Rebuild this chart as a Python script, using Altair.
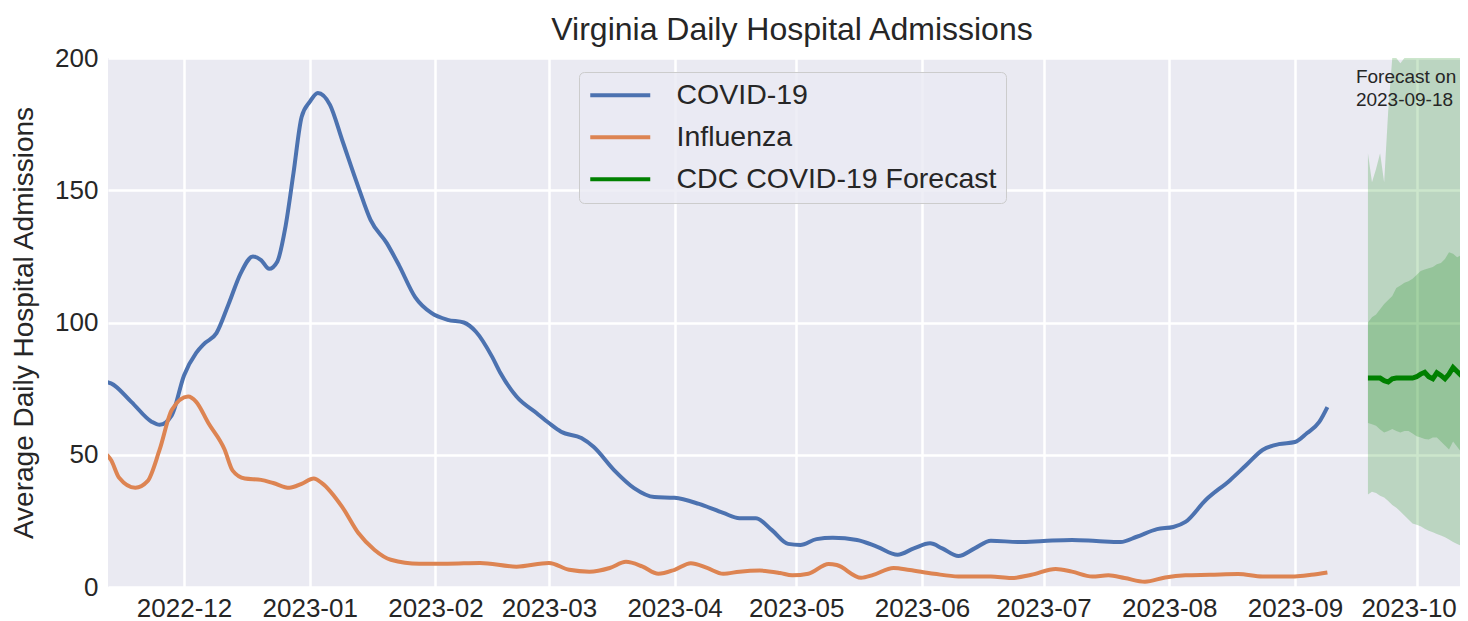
import altair as alt
import pandas as pd

# ---------------- data ----------------
covid_dates = [
    "2022-11-12", "2022-11-13", "2022-11-18", "2022-11-23", "2022-11-25", "2022-11-28",
    "2022-12-01", "2022-12-04", "2022-12-06", "2022-12-09", "2022-12-12", "2022-12-15",
    "2022-12-18", "2022-12-20", "2022-12-22", "2022-12-24", "2022-12-26", "2022-12-28",
    "2022-12-30", "2023-01-01", "2023-01-03", "2023-01-06", "2023-01-09", "2023-01-13",
    "2023-01-16", "2023-01-20", "2023-01-23", "2023-01-27", "2023-01-31", "2023-02-04",
    "2023-02-08", "2023-02-11", "2023-02-15", "2023-02-17", "2023-02-21", "2023-02-26",
    "2023-03-01", "2023-03-04", "2023-03-09", "2023-03-12", "2023-03-17", "2023-03-22",
    "2023-03-27", "2023-04-01", "2023-04-07", "2023-04-13", "2023-04-17", "2023-04-21",
    "2023-04-25", "2023-04-29", "2023-05-02", "2023-05-06", "2023-05-10", "2023-05-16",
    "2023-05-21", "2023-05-26", "2023-05-30", "2023-06-03", "2023-06-06", "2023-06-10",
    "2023-06-14", "2023-06-18", "2023-06-25", "2023-07-01", "2023-07-08", "2023-07-14",
    "2023-07-20", "2023-07-24", "2023-07-29", "2023-08-02", "2023-08-05", "2023-08-10",
    "2023-08-16", "2023-08-20", "2023-08-24", "2023-08-28", "2023-09-01", "2023-09-04",
    "2023-09-07", "2023-09-09",
]
covid_values = [
    77.5, 77, 70, 62.5, 61.3, 65,
    80, 88.5, 92, 96, 107, 118.7,
    125, 123.6, 120.3, 123, 136, 156.5,
    177.7, 183.4, 186.8, 182.3, 169, 151.2,
    138.8, 130, 121.7, 109.6, 103.6, 101,
    100, 96.5, 87, 81, 72, 65.7,
    62, 58.7, 56.3, 53, 44.3, 37.4,
    34, 33.7, 31.4, 28, 26, 26,
    21.5, 16.3, 15.9, 18.1, 18.6, 17.8,
    15.2, 12.2, 14.6, 16.5, 14.6, 11.7,
    14.6, 17.5, 17, 17.4, 17.8, 17.4,
    17, 19, 21.9, 22.7, 24.6, 32.9,
    40.4, 46.1, 51.8, 54, 54.8, 58.2,
    62.4, 68,
]

flu_dates = [
    "2022-11-12", "2022-11-13", "2022-11-15", "2022-11-19", "2022-11-22", "2022-11-25",
    "2022-11-28", "2022-12-02", "2022-12-04", "2022-12-07", "2022-12-11", "2022-12-13",
    "2022-12-16", "2022-12-20", "2022-12-23", "2022-12-27", "2022-12-30", "2023-01-02",
    "2023-01-04", "2023-01-09", "2023-01-13", "2023-01-17", "2023-01-21", "2023-01-28",
    "2023-02-04", "2023-02-12", "2023-02-21", "2023-03-01", "2023-03-06", "2023-03-11",
    "2023-03-16", "2023-03-20", "2023-03-24", "2023-03-28", "2023-04-01", "2023-04-05",
    "2023-04-09", "2023-04-13", "2023-04-17", "2023-04-22", "2023-04-27", "2023-04-30",
    "2023-05-04", "2023-05-09", "2023-05-11", "2023-05-17", "2023-05-20", "2023-05-25",
    "2023-05-29", "2023-06-04", "2023-06-10", "2023-06-18", "2023-06-23", "2023-06-28",
    "2023-07-04", "2023-07-08", "2023-07-13", "2023-07-17", "2023-07-21", "2023-07-26",
    "2023-07-31", "2023-08-05", "2023-08-11", "2023-08-18", "2023-08-24", "2023-09-01",
    "2023-09-05", "2023-09-09",
]
flu_values = [
    50, 48, 41.3, 37.5, 40, 52,
    67, 72, 70, 62, 52, 44,
    41, 40.5, 39.3, 37.5, 39, 41,
    39.3, 30.3, 20.4, 14, 10.3, 8.8,
    8.8, 9.1, 7.7, 9.1, 6.5, 5.8,
    7.2, 9.5, 7.8, 5, 6.5, 9,
    7.2, 5, 5.8, 6.2, 5.3, 4.4,
    5, 8.7, 8.3, 3.5, 4.6, 7.2,
    6.4, 5, 4, 4, 3.4, 4.6,
    6.8, 5.8, 4, 4.4, 3.4, 2,
    3.6, 4.4, 4.6, 4.9, 4, 4,
    4.6, 5.5,
]

fc_dates = [
    "2023-09-19", "2023-09-20", "2023-09-21", "2023-09-22", "2023-09-23", "2023-09-24",
    "2023-09-25", "2023-09-26", "2023-09-27", "2023-09-28", "2023-09-29", "2023-09-30",
    "2023-10-01", "2023-10-02", "2023-10-03", "2023-10-04", "2023-10-05", "2023-10-06",
    "2023-10-07", "2023-10-08", "2023-10-09", "2023-10-10", "2023-10-11", "2023-10-12",
    "2023-10-13", "2023-10-14",
]
fc_median = [79, 79, 79, 79, 78, 77.5, 78.7, 79, 79, 79, 79, 79,
             79.5, 80.5, 81.2, 79.5, 78.7, 81, 80, 78.7, 80.5, 83, 81.5, 80,
             81, 79.5]
fc_inner_hi = [100, 102, 103, 105, 107, 108.5, 110, 113, 114, 115, 115.6, 116.5,
               118, 119.5, 120, 120.5, 121, 122, 122.5, 124, 126.6, 126, 124.7, 125.5,
               127, 126]
fc_inner_lo = [62, 61.5, 61, 59.5, 58.4, 59, 59.7, 59, 58.4, 59, 59, 58,
               57, 56.5, 56, 55.8, 56.5, 56.5, 55, 53.5, 52, 55, 53, 51,
               50.8, 50.6]
fc_outer_hi = [164, 153, 158, 164, 153, 180, 205, 240, 198, 250, 262, 270,
               275, 280, 285, 290, 295, 300, 305, 310, 315, 320, 325, 330,
               335, 340]
fc_outer_lo = [35, 36, 35.5, 34.5, 33.8, 32.5, 31, 30, 28.5, 27, 25.5, 24,
               23.5, 23, 22, 21.3, 20.7, 20, 19.5, 18.8, 18, 17, 16.3, 15.6,
               15.6, 15.6]

series_names = ["COVID-19", "Influenza", "CDC COVID-19 Forecast"]
series_colors = ["#4c72b0", "#dd8452", "green"]

x_tick_months = [(2022, 12)] + [(2023, m) for m in range(1, 11)]
y_ticks = [0, 50, 100, 150, 200]

chart_title = "Virginia Daily Hospital Admissions"
annotation_text = "Forecast on\n2023-09-18"
annotation_date = "2023-09-18"
annotation_y = 190.5

# ---------------- tables ----------------
lines_df = pd.concat([
    pd.DataFrame({"date": pd.to_datetime(covid_dates), "value": covid_values, "series": "COVID-19"}),
    pd.DataFrame({"date": pd.to_datetime(flu_dates), "value": flu_values, "series": "Influenza"}),
])
fc_df = pd.DataFrame({
    "date": pd.to_datetime(fc_dates),
    "value": fc_median,
    "inner_hi": fc_inner_hi,
    "inner_lo": fc_inner_lo,
    "outer_hi": fc_outer_hi,
    "outer_lo": fc_outer_lo,
    "series": "CDC COVID-19 Forecast",
})
ann_df = pd.DataFrame({"date": pd.to_datetime([annotation_date]), "value": [annotation_y],
                       "label": [annotation_text]})
title_df = pd.DataFrame({"label": [chart_title]})

FONT = "Liberation Sans"
TXT = "#262626"
W, H = 1352, 529

x_scale = alt.Scale(domain=[alt.DateTime(year=2022, month=11, date=12, hours=6),
                            alt.DateTime(year=2023, month=10, date=11, hours=17)])
y_scale = alt.Scale(domain=[0, 200], nice=False, zero=False, clamp=True)

x_axis = alt.Axis(
    values=[alt.DateTime(year=y, month=m, date=1) for y, m in x_tick_months],
    format="%Y-%m", title=None, labelFontSize=26, labelFont=FONT, labelColor=TXT,
    labelPadding=8, ticks=False, domain=False, gridColor="white", gridWidth=2.5,
    labelFlush=False, labelOverlap=False, labelBound=False,
    labelOffset={"condition": {"test": "datum.label == '2023-10'", "value": -8}, "value": 0},
)
y_axis = alt.Axis(
    values=y_ticks, title="Average Daily Hospital Admissions", titleFontSize=28,
    titleFont=FONT, titleFontWeight="normal", titleColor=TXT, titleX=-75.5,
    titleBaseline="alphabetic", labelFontSize=26, labelFont=FONT, labelColor=TXT,
    labelPadding=10, ticks=False, domain=False, gridColor="white", gridWidth=2.5,
)

color_scale = alt.Scale(domain=series_names, range=series_colors)
legend = alt.Legend(
    title=None, orient="none", legendX=471, legendY=14, symbolType="M-1,0H4",
    symbolSize=576, symbolStrokeWidth=4, labelFontSize=28.5, labelFont=FONT,
    labelColor=TXT, labelOffset=60, rowPadding=13, padding=9,
    fillColor="rgba(234,234,242,0.8)", strokeColor="#cccccc", cornerRadius=5,
    labelLimit=600,
)

base_x = alt.X("date:T", scale=x_scale, axis=x_axis)

outer = alt.Chart(fc_df).mark_area(color="green", opacity=0.2, clip=True).encode(
    x=base_x, y=alt.Y("outer_lo:Q", scale=y_scale, axis=y_axis), y2="outer_hi:Q")
inner = alt.Chart(fc_df).mark_area(color="green", opacity=0.2, clip=True).encode(
    x=base_x, y=alt.Y("inner_lo:Q", scale=y_scale), y2="inner_hi:Q")

hist = alt.Chart(lines_df).mark_line(strokeWidth=4, interpolate="monotone", clip=True).encode(
    x=base_x, y=alt.Y("value:Q", scale=y_scale),
    color=alt.Color("series:N", scale=color_scale, legend=legend),
    detail="series:N",
)
fc_line = alt.Chart(fc_df).mark_line(strokeWidth=5, clip=True).encode(
    x=base_x, y=alt.Y("value:Q", scale=y_scale),
    color=alt.Color("series:N", scale=color_scale, legend=legend),
)
ann = alt.Chart(ann_df).mark_text(
    align="left", baseline="alphabetic", fontSize=19, font=FONT, color=TXT,
    lineBreak="\n", lineHeight=22.4, dx=-8,
).encode(x=base_x, y=alt.Y("value:Q", scale=y_scale), text="label:N")

title_mark = alt.Chart(title_df).mark_text(
    align="center", baseline="alphabetic", fontSize=32, font=FONT, color=TXT,
).encode(x=alt.value(684), y=alt.value(-18.3), text="label:N")

chart = alt.layer(outer, inner, hist, fc_line, ann, title_mark).properties(
    width=W, height=H,
    autosize=alt.AutoSizeParams(type="none"),
    padding={"left": 100, "top": 50, "right": 0, "bottom": 34},
    background="white",
).configure_view(fill="#eaeaf2", strokeWidth=0)

chart.save("out.html", embed_options={"renderer": "svg", "actions": False})
